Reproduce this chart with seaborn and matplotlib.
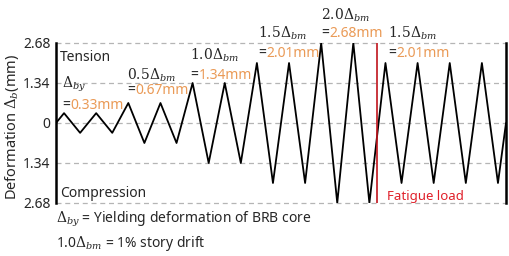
import numpy as np
import pandas as pd
import matplotlib
matplotlib.use("Agg")
import matplotlib.pyplot as plt
import seaborn as sns

# ---- data ----
amplitudes = [0.33, 0.67, 1.34, 2.01, 2.68, 2.01]   # mm, per loading step
cycles = [2, 2, 2, 2, 2, 4]                        # cycles per step
tick_values = [-2.68, -1.34, 0, 1.34, 2.68]
tick_labels = ["2.68", "1.34", "0", "1.34", "2.68"]
step_labels = [r"$\Delta_{by}$", r"$0.5\Delta_{bm}$", r"$1.0\Delta_{bm}$",
               r"$1.5\Delta_{bm}$", r"$2.0\Delta_{bm}$", r"$1.5\Delta_{bm}$"]
step_values = ["0.33mm", "0.67mm", "1.34mm", "2.01mm", "2.68mm", "2.01mm"]
fatigue_start = 20  # half-cycle index where fatigue loading begins

# build zigzag protocol from amplitudes / cycles
t = [0.0]
d = [0.0]
k = 0
for a, n in zip(amplitudes, cycles):
    for _ in range(2 * n):
        t.append(k + 0.5)
        d.append(a if k % 2 == 0 else -a)
        k += 1
t.append(float(k))
d.append(0.0)
df = pd.DataFrame({"t": t, "d": d})

sns.set_style("white")
plt.rcParams["font.family"] = ["Noto Sans", "DejaVu Sans"]
plt.rcParams["mathtext.fontset"] = "dejavuserif"

fig = plt.figure(figsize=(5.09, 2.56), dpi=100)
ax = fig.add_axes([56 / 509, 1 - 203 / 256, 450 / 509, 160 / 256])

sns.lineplot(data=df, x="t", y="d", color="black", linewidth=1.3, ax=ax)

ax.set_xlim(0, k)
ax.set_ylim(-2.68, 2.68)
ax.set_xticks([])
ax.set_yticks(tick_values)
ax.set_yticklabels(tick_labels, fontsize=10)
ax.tick_params(axis="y", length=3, width=0.8, color="#888888", pad=1)
ax.set_xlabel("")
ax.set_ylabel("")
for yv in tick_values:
    ax.axhline(yv, color="#b5b5b5", lw=0.9, ls=(0, (4, 3)), zorder=0, clip_on=False)

for s in ["top", "bottom"]:
    ax.spines[s].set_visible(False)
for s in ["left", "right"]:
    ax.spines[s].set_color("black")
    ax.spines[s].set_linewidth(1.8)

# fatigue line
ax.plot([fatigue_start, fatigue_start], [-2.68, 2.68], color="#c0141c", lw=1.2, zorder=3)
ax.text(20.6, -2.58, "Fatigue load", color="#e0202a", fontsize=9.5, va="baseline", ha="left")

ax.text(0.25, 2.08, "Tension", fontsize=10, va="baseline", ha="left")
ax.text(0.25, -2.48, "Compression", fontsize=10, va="baseline", ha="left")

orange = "#ea9a56"
label_pos = [(0.37, 1.17, 0.47), (4.42, 1.44, 0.97), (8.34, 2.14, 1.47),
             (12.57, 2.85, 2.21), (16.49, 3.48, 2.88), (20.66, 2.85, 2.21)]
for (x, y1, y2), lab, val in zip(label_pos, step_labels, step_values):
    ax.text(x, y1, lab, fontsize=10, va="baseline", ha="left", clip_on=False)
    ax.text(x, y2, "=", fontsize=10, va="baseline", ha="left", clip_on=False)
    ax.annotate(val, xy=(x, y2), xytext=(6.0, 0), textcoords="offset points",
                fontsize=10, color=orange, va="baseline", ha="left", annotation_clip=False)

fig.text(12 / 509, 1 - 127 / 256, r"Deformation $\Delta_b$(mm)", rotation=90,
         fontsize=10.5, va="center", ha="center")
fig.text(56 / 509, 1 - 223 / 256, r"$\Delta_{by}$ = Yielding deformation of BRB core",
         fontsize=10, va="baseline", ha="left")
fig.text(56 / 509, 1 - 247 / 256, r"1.0$\Delta_{bm}$ = 1% story drift",
         fontsize=10, va="baseline", ha="left")

fig.savefig("out.png", dpi=100)
